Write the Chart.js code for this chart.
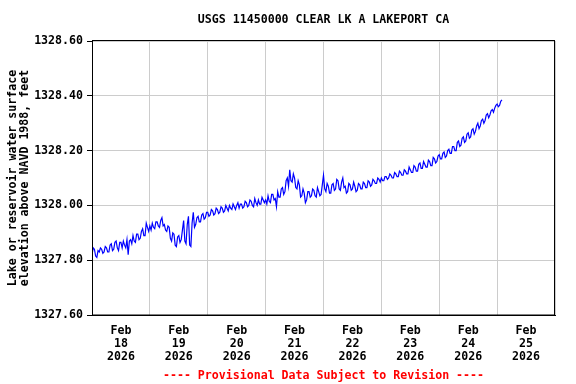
<!DOCTYPE html>
<html>
<head>
<meta charset="utf-8">
<script src="https://cdn.jsdelivr.net/npm/chart.js@4/dist/chart.umd.min.js"></script>
<style>
  html, body { margin: 0; padding: 0; background: #ffffff; }
  #wrap { width: 576px; height: 384px; position: relative; }
</style>
</head>
<body>
<div id="wrap"><canvas id="c" width="576" height="384"></canvas></div>
<script>
// ---- Data: half-hourly lake surface elevation (feet); reading 0 = Feb 18 00:00 ----
const feb18 = [1327.82, 1327.845, 1327.84, 1327.815, 1327.81, 1327.835, 1327.83, 1327.845, 1327.84, 1327.825, 1327.83, 1327.85,
               1327.845, 1327.83, 1327.83, 1327.855, 1327.86, 1327.835, 1327.84, 1327.865, 1327.87, 1327.845, 1327.835, 1327.865,
               1327.865, 1327.845, 1327.87, 1327.855, 1327.845, 1327.875, 1327.82, 1327.87, 1327.875, 1327.86, 1327.89, 1327.87,
               1327.865, 1327.895, 1327.895, 1327.875, 1327.88, 1327.905, 1327.915, 1327.89, 1327.89, 1327.935, 1327.92, 1327.905];
const feb19 = [1327.925, 1327.91, 1327.935, 1327.92, 1327.915, 1327.94, 1327.94, 1327.925, 1327.92, 1327.945, 1327.955, 1327.925,
               1327.93, 1327.91, 1327.905, 1327.925, 1327.92, 1327.88, 1327.87, 1327.90, 1327.895, 1327.855, 1327.85, 1327.885,
               1327.89, 1327.865, 1327.875, 1327.91, 1327.945, 1327.87, 1327.86, 1327.93, 1327.96, 1327.855, 1327.85, 1327.935,
               1327.975, 1327.92, 1327.93, 1327.955, 1327.96, 1327.94, 1327.94, 1327.965, 1327.97, 1327.95, 1327.955, 1327.975];
const feb20 = [1327.975, 1327.96, 1327.965, 1327.985, 1327.98, 1327.965, 1327.97, 1327.99, 1327.985, 1327.97, 1327.975, 1327.995,
               1327.99, 1327.975, 1327.98, 1328.00, 1327.99, 1327.98, 1328.00, 1327.99, 1327.985, 1328.005, 1327.995, 1327.985,
               1328.00, 1328.01, 1327.99, 1328.005, 1328.005, 1327.99, 1327.995, 1328.015, 1328.01, 1327.995, 1328.00, 1328.02,
               1328.015, 1328.00, 1327.995, 1328.025, 1328.01, 1328.00, 1328.02, 1328.005, 1328.005, 1328.03, 1328.02, 1328.01];
const feb21 = [1328.02, 1328.005, 1328.035, 1328.015, 1328.01, 1328.04, 1328.04, 1328.02, 1328.025, 1327.995, 1328.05, 1328.03,
               1328.03, 1328.06, 1328.065, 1328.04, 1328.05, 1328.09, 1328.10, 1328.07, 1328.13, 1328.09, 1328.085, 1328.115,
               1328.10, 1328.065, 1328.06, 1328.09, 1328.075, 1328.03, 1328.035, 1328.06, 1328.045, 1328.01, 1328.02, 1328.05,
               1328.05, 1328.03, 1328.035, 1328.06, 1328.055, 1328.035, 1328.03, 1328.065, 1328.05, 1328.035, 1328.04, 1328.075];
const feb22 = [1328.11, 1328.06, 1328.05, 1328.08, 1328.07, 1328.045, 1328.045, 1328.075, 1328.08, 1328.055, 1328.06, 1328.095,
               1328.09, 1328.06, 1328.055, 1328.085, 1328.10, 1328.065, 1328.07, 1328.045, 1328.05, 1328.08, 1328.075, 1328.055,
               1328.06, 1328.085, 1328.07, 1328.05, 1328.055, 1328.08, 1328.075, 1328.06, 1328.06, 1328.085, 1328.08, 1328.065,
               1328.065, 1328.09, 1328.085, 1328.07, 1328.075, 1328.095, 1328.09, 1328.08, 1328.08, 1328.10, 1328.095, 1328.085];
const feb23 = [1328.10, 1328.09, 1328.09, 1328.105, 1328.105, 1328.095, 1328.10, 1328.115, 1328.11, 1328.10, 1328.10, 1328.12,
               1328.115, 1328.105, 1328.105, 1328.125, 1328.12, 1328.11, 1328.11, 1328.13, 1328.125, 1328.115, 1328.115, 1328.14,
               1328.13, 1328.12, 1328.12, 1328.145, 1328.14, 1328.125, 1328.125, 1328.15, 1328.155, 1328.135, 1328.135, 1328.16,
               1328.15, 1328.14, 1328.14, 1328.165, 1328.16, 1328.145, 1328.145, 1328.175, 1328.17, 1328.155, 1328.16, 1328.18];
const feb24 = [1328.185, 1328.17, 1328.17, 1328.19, 1328.195, 1328.175, 1328.18, 1328.20, 1328.205, 1328.19, 1328.19, 1328.215,
               1328.215, 1328.20, 1328.20, 1328.23, 1328.235, 1328.215, 1328.22, 1328.245, 1328.25, 1328.23, 1328.235, 1328.26,
               1328.265, 1328.245, 1328.25, 1328.275, 1328.28, 1328.26, 1328.27, 1328.29, 1328.30, 1328.28, 1328.29, 1328.31,
               1328.315, 1328.30, 1328.31, 1328.33, 1328.335, 1328.32, 1328.33, 1328.345, 1328.35, 1328.34, 1328.355, 1328.365];
const feb25 = [1328.37, 1328.36, 1328.365, 1328.38, 1328.385];

// ---- Tick labels ----
const tickMonths = ['Feb', 'Feb', 'Feb', 'Feb', 'Feb', 'Feb', 'Feb', 'Feb'];
const tickDays   = ['18', '19', '20', '21', '22', '23', '24', '25'];
const tickYears  = ['2026', '2026', '2026', '2026', '2026', '2026', '2026', '2026'];
const yTicks     = [1327.60, 1327.80, 1328.00, 1328.20, 1328.40, 1328.60];

const titleText  = 'USGS 11450000 CLEAR LK A LAKEPORT CA';
const yTitle     = ['Lake or reservoir water surface', 'elevation above NAVD 1988, feet'];
const footerText = '---- Provisional Data Subject to Revision ----';

// ---- Build chart ----
const allValues = [].concat(feb18, feb19, feb20, feb21, feb22, feb23, feb24, feb25);
const points = allValues.map((v, i) => ({ x: i / 2, y: v }));   // x in hours
const MONO = "'DejaVu Sans Mono', 'Liberation Mono', monospace";

const frameAndText = {
  id: 'frameAndText',
  afterDraw(chart) {
    const { ctx, chartArea: a } = chart;
    ctx.save();
    ctx.strokeStyle = '#000000';
    ctx.lineWidth = 1;
    ctx.strokeRect(Math.round(a.left) + 0.5, Math.round(a.top) - 0.5,
                   Math.round(a.right - a.left) - 1, Math.round(a.bottom - a.top) + 0.5);
    const cx = (a.left + a.right) / 2;
    ctx.textAlign = 'center';
    ctx.textBaseline = 'middle';
    ctx.font = 'bold 11.6px ' + MONO;
    ctx.fillStyle = '#000000';
    ctx.fillText(titleText, cx, 19.5);
    ctx.fillStyle = '#ff0000';
    ctx.fillText(footerText, cx, 375.5);
    ctx.restore();
  }
};

new Chart(document.getElementById('c'), {
  type: 'line',
  data: {
    datasets: [{
      data: points,
      borderColor: '#0000ff',
      borderWidth: 1.2,
      pointRadius: 0,
      tension: 0,
      fill: false,
      xAxisID: 'x'
    }]
  },
  options: {
    responsive: false,
    animation: false,
    devicePixelRatio: 1,
    layout: { padding: { top: 41, bottom: 20, left: 0, right: 21 } },
    plugins: { legend: { display: false }, tooltip: { enabled: false }, title: { display: false } },
    scales: {
      x: {
        type: 'linear',
        position: 'bottom',
        min: 0, max: 192,
        afterBuildTicks(axis) {
          const t = [];
          for (let i = 0; i <= tickDays.length; i++) t.push({ value: i * 24 });
          axis.ticks = t;
        },
        afterFit(scale) { scale.height = 0; },
        ticks: { display: false },
        grid: { color: '#cccccc', lineWidth: 1, drawTicks: false },
        border: { display: true, color: '#000000', width: 1 }
      },
      xl: {
        type: 'linear',
        position: 'bottom',
        min: 0, max: 192,
        afterBuildTicks(axis) {
          axis.ticks = tickDays.map((d, i) => ({ value: 12 + i * 24 }));
        },
        afterFit(scale) { scale.height = 49; },
        grid: { display: false, drawTicks: false },
        border: { display: false },
        ticks: {
          autoSkip: false,
          maxRotation: 0,
          padding: 9,
          color: '#000000',
          font: { family: MONO, size: 11.6, weight: 'bold', lineHeight: 13 / 11.6 },
          callback(value, index) {
            return [tickMonths[index], tickDays[index], tickYears[index]];
          }
        }
      },
      y: {
        type: 'linear',
        position: 'left',
        min: yTicks[0], max: yTicks[yTicks.length - 1],
        afterBuildTicks(axis) { axis.ticks = yTicks.map(v => ({ value: v })); },
        afterFit(scale) { scale.width = 92; },
        grid: { color: '#cccccc', lineWidth: 1, tickLength: 5, tickColor: '#000000' },
        border: { display: true, color: '#000000', width: 1 },
        ticks: {
          padding: 4,
          color: '#000000',
          font: { family: MONO, size: 11.6, weight: 'bold' },
          callback(value) { return Number(value).toFixed(2); }
        },
        title: {
          display: true,
          text: yTitle,
          color: '#000000',
          padding: { top: 7, bottom: 0 },
          font: { family: MONO, size: 11.6, weight: 'bold', lineHeight: 12 / 11.6 }
        }
      }
    }
  },
  plugins: [frameAndText]
});
</script>
</body>
</html>
